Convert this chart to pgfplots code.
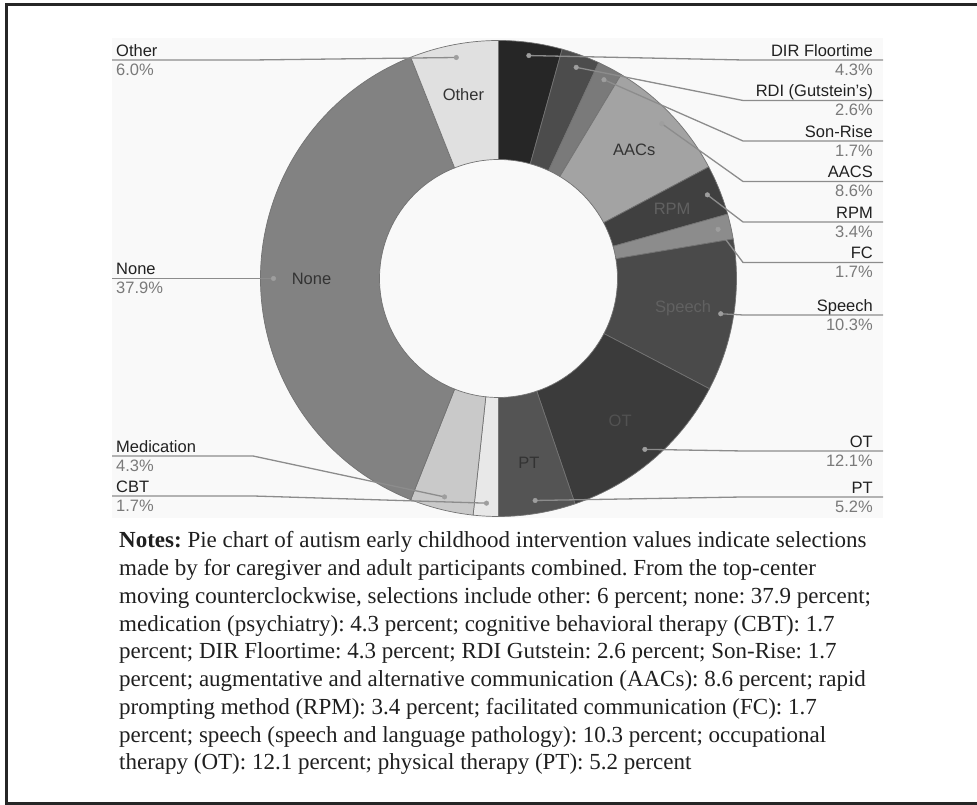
\documentclass[border=0pt]{standalone}
\usepackage{pgfplots}
\pgfplotsset{compat=1.18}
\usepackage{pgfplotstable}
\usepackage{fontspec}
\setmainfont{Liberation Serif}
\newfontfamily\chartfont{Liberation Sans}
\frenchspacing

% Interventions, clockwise from the top of the ring.
% shade = fill (percent black), inshade = colour of the label inside the slice (0 = no label),
% liney / elbx = where the leader line turns and runs out to its label (px from top / left).
\pgfplotstableread[col sep=comma]{
name,value,shade,inner,inshade,liney,elbx
DIR Floortime,4.3,85,-,0,60,743
RDI (Gutstein’s),2.6,70,-,0,100.5,743
Son-Rise,1.7,52,-,0,141,743
AACS,8.6,36,AACs,80,181.5,743
RPM,3.4,75,RPM,62,222,743
FC,1.7,45,-,0,262.5,743
Speech,10.3,71,Speech,62,315,743
OT,12.1,77,OT,68,451,743
PT,5.2,67,PT,80,497,743
CBT,1.7,9,-,0,496,253
Medication,4.3,21,-,0,456,253
None,37.9,49,None,80,278.5,253
Other,6.0,12,Other,80,60,253
}\slices

\pgfplotstablegetrowsof{\slices}
\pgfmathtruncatemacro\lastrow{\pgfplotsretval-1}
\def\total{0}
\pgfplotsforeachungrouped \i in {0,...,\lastrow}{%
  \pgfplotstablegetelem{\i}{value}\of\slices
  \pgfmathsetmacro\total{\total+\pgfplotsretval}%
}

% ring geometry (axis units = px)
\def\cx{498.5}\def\cy{526.5}
\def\Ro{238}\def\Ri{119}\def\Rd{225}\def\Rl{187}

\tikzset{
  slice edge/.style={draw=black!55, line width=0.7pt},
  leader/.style={draw=black!45, line width=1.3pt},
  namelab/.style={font=\chartfont\fontsize{16.5}{19}\selectfont, text=black!87, inner sep=0pt},
  pctlab/.style={font=\chartfont\fontsize{16.5}{19}\selectfont, text=black!52, inner sep=0pt},
  inlab/.style={font=\chartfont\fontsize{16.5}{19}\selectfont, inner sep=0pt},
  note/.style={font=\fontsize{23}{27.75}\selectfont, text=black!88, anchor=base west, inner sep=0pt},
}

\begin{document}
\begin{tikzpicture}[x=1pt,y=1pt]
\useasboundingbox (0,0) rectangle (977,805);
\fill[black!2.5] (112,287) rectangle (883,767);
\begin{axis}[
  at={(0,0)}, anchor=south west,
  x=1pt, y=1pt, xmin=0, xmax=977, ymin=0, ymax=805,
  hide axis, clip=false, disabledatascaling]

% slices
\def\acc{0}
\pgfplotsforeachungrouped \i in {0,...,\lastrow}{%
  \pgfplotstablegetelem{\i}{value}\of\slices \let\sval\pgfplotsretval
  \pgfplotstablegetelem{\i}{shade}\of\slices \let\sshade\pgfplotsretval
  \pgfmathsetmacro\angA{90-360*(\acc/\total)}%
  \pgfmathsetmacro\acc{\acc+\sval}%
  \pgfmathsetmacro\angB{90-360*(\acc/\total)}%
  \edef\cmd{\noexpand\filldraw[fill=black!\sshade, slice edge]
    (axis cs:{\cx+\Ro*cos(\angA)},{\cy+\Ro*sin(\angA)})
    arc[start angle=\angA, end angle=\angB, radius=\Ro pt]
    -- (axis cs:{\cx+\Ri*cos(\angB)},{\cy+\Ri*sin(\angB)})
    arc[start angle=\angB, end angle=\angA, radius=\Ri pt] -- cycle;}%
  \cmd
}

% leader lines, outer labels, inner labels
\def\acc{0}
\def\dotlist{}
\pgfplotsforeachungrouped \i in {0,...,\lastrow}{%
  \pgfplotstablegetelem{\i}{value}\of\slices \let\sval\pgfplotsretval
  \pgfplotstablegetelem{\i}{name}\of\slices \let\sname\pgfplotsretval
  \pgfplotstablegetelem{\i}{inner}\of\slices \let\sinner\pgfplotsretval
  \pgfplotstablegetelem{\i}{inshade}\of\slices \let\sinsh\pgfplotsretval
  \pgfplotstablegetelem{\i}{liney}\of\slices \let\sliney\pgfplotsretval
  \pgfplotstablegetelem{\i}{elbx}\of\slices \let\selbx\pgfplotsretval
  \pgfmathsetmacro\midang{90-360*((\acc+0.5*\sval)/\total)}%
  \pgfmathsetmacro\acc{\acc+\sval}%
  \pgfmathsetmacro\dotx{\cx+\Rd*cos(\midang)}%
  \pgfmathsetmacro\doty{\cy+\Rd*sin(\midang)}%
  \pgfmathsetmacro\liny{805-\sliney}%
  \ifdim\selbx pt>\cx pt
    \def\endx{883}\def\labx{873}\def\labanch{east}%
  \else
    \def\endx{112}\def\labx{116}\def\labanch{west}%
  \fi
  \edef\cmd{\noexpand\draw[leader] (axis cs:\dotx,\doty) -- (axis cs:\selbx,\liny) -- (axis cs:\endx,\liny);
    \noexpand\node[namelab, anchor=base \labanch] at (axis cs:\labx,{\liny+3.5}) {\sname};
    \noexpand\node[pctlab, anchor=base \labanch] at (axis cs:\labx,{\liny-15.5}) {\sval\noexpand\%};}%
  \cmd
  \ifnum\sinsh>0\relax
    \edef\cmd{\noexpand\node[inlab, text=black!\sinsh]
      at (axis cs:{\cx+\Rl*cos(\midang)},{\cy+\Rl*sin(\midang)}) {\sinner};}%
    \cmd
  \fi
  \edef\dotlist{\dotlist (\dotx,\doty)}%
}
\edef\cmd{\noexpand\addplot[only marks, mark=*, mark size=2.3pt,
  mark options={draw=black!38, fill=black!38}] coordinates {\dotlist};}
\cmd
\end{axis}

% notes
\node[note] at (119,257) {\textbf{Notes:} Pie chart of autism early childhood intervention values indicate selections};
\node[note] at (119,229.25) {made by for caregiver and adult participants combined. From the top-center};
\node[note] at (119,201.5) {moving counterclockwise, selections include other: 6 percent; none: 37.9 percent;};
\node[note] at (119,173.75) {medication (psychiatry): 4.3 percent; cognitive behavioral therapy (CBT): 1.7};
\node[note] at (119,146) {percent; DIR Floortime: 4.3 percent; RDI Gutstein: 2.6 percent; Son-Rise: 1.7};
\node[note] at (119,118.25) {percent; augmentative and alternative communication (AACs): 8.6 percent; rapid};
\node[note] at (119,90.5) {prompting method (RPM): 3.4 percent; facilitated communication (FC): 1.7};
\node[note] at (119,62.75) {percent; speech (speech and language pathology): 10.3 percent; occupational};
\node[note] at (119,35) {therapy (OT): 12.1 percent; physical therapy (PT): 5.2 percent};

% frame
\draw[line width=3pt, black!85] (980,800.5) -- (6,800.5) -- (6,1.5) -- (980,1.5);
\end{tikzpicture}
\end{document}
